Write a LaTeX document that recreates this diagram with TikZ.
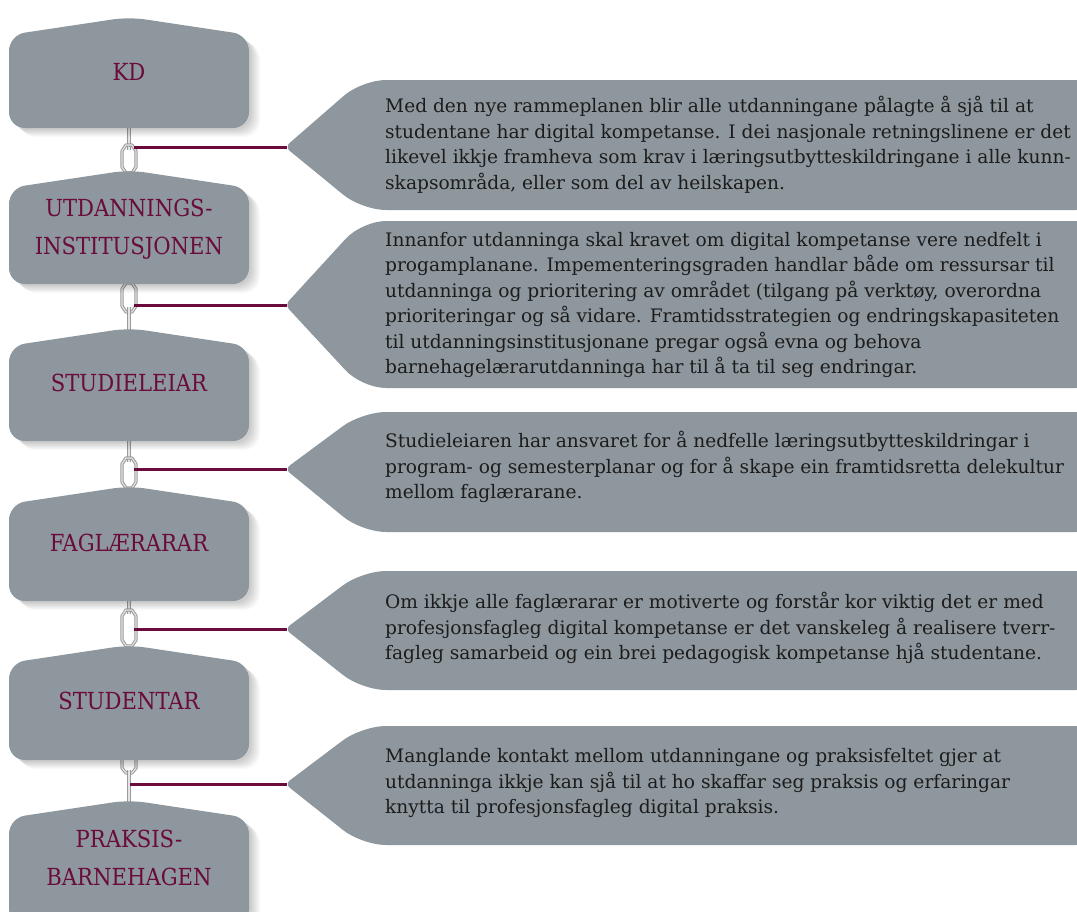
\documentclass[tikz,border=0pt]{standalone}
\usepackage{fontspec}
\setmainfont{DejaVu Serif}
\newfontfamily\labelfont{DejaVu Serif Condensed}
\definecolor{boxgray}{HTML}{8D979D}
\definecolor{wine}{HTML}{6A0B3C}
\definecolor{bodytext}{HTML}{1C1C1C}
\definecolor{chaindark}{HTML}{9A9A9A}
\definecolor{chainlight}{HTML}{E4E4E4}
\newcommand\roleshape[2]{%
  \foreach \s in {1,...,10}{%
    \fill[black,opacity=0.02,rounded corners=16,xshift=\s*1pt+1pt,yshift=-\s*0.8pt-1pt]
      (9,#2) -- (9,#1+18) -- (129,#1) -- (249,#1+18) -- (249,#2) -- cycle;}
  \fill[boxgray,rounded corners=16] (9,#2) -- (9,#1+18) -- (129,#1) -- (249,#1+18) -- (249,#2) -- cycle;}
\newcommand\calloutshape[3]{%
  \fill[boxgray] (285,#3) [rounded corners=24] -- (362,#1) -- (1100,#1) -- (1100,#2) -- (362,#2) [rounded corners=6] -- cycle;}
\newcommand\chainlink[2]{%
  \draw[chaindark,line width=3.2pt,line join=round] (122,#1+6) -- (126,#1) -- (132,#1) -- (136,#1+6) -- (136,#2-6) -- (132,#2) -- (126,#2) -- (122,#2-6) -- cycle;
  \draw[chainlight,line width=1.2pt,line join=round] (122,#1+6) -- (126,#1) -- (132,#1) -- (136,#1+6) -- (136,#2-6) -- (132,#2) -- (126,#2) -- (122,#2-6) -- cycle;}
\newcommand\chainrod[2]{%
  \draw[chaindark,line width=4pt] (129,#1) -- (129,#2);
  \draw[chainlight,line width=1.4pt] (129,#1) -- (129,#2);}
\begin{document}
\begin{tikzpicture}[x=1pt,y=-1pt,
  rolelabel/.style={text=wine,font=\labelfont\fontsize{23.5}{38}\selectfont,align=center,inner sep=0pt},
  calltext/.style={text=bodytext,font=\fontsize{18.6}{25.5}\selectfont,align=left,anchor=west,inner sep=0pt},
  link/.style={wine,line width=3pt}]
\clip (0,0) rectangle (1077,911);
\fill[white] (0,0) rectangle (1077,911);
% callouts
\calloutshape{80}{210}{147}
\calloutshape{221}{388}{305}
\calloutshape{412}{532}{469}
\calloutshape{571}{690}{629}
\calloutshape{726}{845}{784}
% chain pieces
\chainrod{126}{150}
\chainlink{145}{173}
\chainlink{283}{312}
\chainrod{307}{331}
\chainrod{439}{462}
\chainlink{458}{488}
\chainrod{599}{614}
\chainlink{610}{646}
\draw[chaindark,line width=3.2pt,line join=round] (122,758) -- (122,768) -- (126,773) -- (132,773) -- (136,768) -- (136,758);
\draw[chainlight,line width=1.2pt,line join=round] (122,758) -- (122,768) -- (126,773) -- (132,773) -- (136,768) -- (136,758);
\chainrod{770}{802}
% role shapes
\roleshape{17}{128}
\roleshape{170}{284}
\roleshape{328}{441}
\roleshape{486}{601}
\roleshape{645}{760}
\roleshape{800}{925}
% labels
\node[rolelabel] (kd) at (129,72) {KD};
\node[rolelabel] (uh) at (129,229) {UTDANNINGS-\\INSTITUSJONEN};
\node[rolelabel] (sl) at (129,383) {STUDIELEIAR};
\node[rolelabel] (fl) at (129,543) {FAGLÆRARAR};
\node[rolelabel] (st) at (129,701) {STUDENTAR};
\node[rolelabel] (pb) at (129,858) {PRAKSIS-\\BARNEHAGEN};
% connector ends
\coordinate (l1) at (134,147); \coordinate (t1) at (287,147);
\coordinate (l2) at (134,305); \coordinate (t2) at (287,305);
\coordinate (l3) at (134,469); \coordinate (t3) at (287,469);
\coordinate (l4) at (134,629); \coordinate (t4) at (287,629);
\coordinate (l5) at (130,784); \coordinate (t5) at (287,784);
\draw[link] (l1) -- (t1);
\draw[link] (l2) -- (t2);
\draw[link] (l3) -- (t3);
\draw[link] (l4) -- (t4);
\draw[link] (l5) -- (t5);
% callout texts
\node[calltext] (c1) at (385,145) {Med den nye rammeplanen blir alle utdanningane pålagte å sjå til at\\studentane har digital kompetanse. I dei nasjonale retningslinene er det\\likevel ikkje framheva som krav i læringsutbytteskildringane i alle kunn-\\skapsområda, eller som del av heilskapen.};
\node[calltext] (c2) at (385,305) {Innanfor utdanninga skal kravet om digital kompetanse vere nedfelt i\\progamplanane. Impementeringsgraden handlar både om ressursar til\\utdanninga og prioritering av området (tilgang på verktøy, overordna\\prioriteringar og så vidare. Framtidsstrategien og endringskapasiteten\\til utdanningsinstitusjonane pregar også evna og behova\\barnehagelærarutdanninga har til å ta til seg endringar.};
\node[calltext] (c3) at (385,467) {Studieleiaren har ansvaret for å nedfelle læringsutbytteskildringar i\\program- og semesterplanar og for å skape ein framtidsretta delekultur\\mellom faglærarane.};
\node[calltext] (c4) at (385,628) {Om ikkje alle faglærarar er motiverte og forstår kor viktig det er med\\profesjonsfagleg digital kompetanse er det vanskeleg å realisere tverr-\\fagleg samarbeid og ein brei pedagogisk kompetanse hjå studentane.};
\node[calltext] (c5) at (385,783) {Manglande kontakt mellom utdanningane og praksisfeltet gjer at\\utdanninga ikkje kan sjå til at ho skaffar seg praksis og erfaringar\\knytta til profesjonsfagleg digital praksis.};
\end{tikzpicture}
\end{document}
